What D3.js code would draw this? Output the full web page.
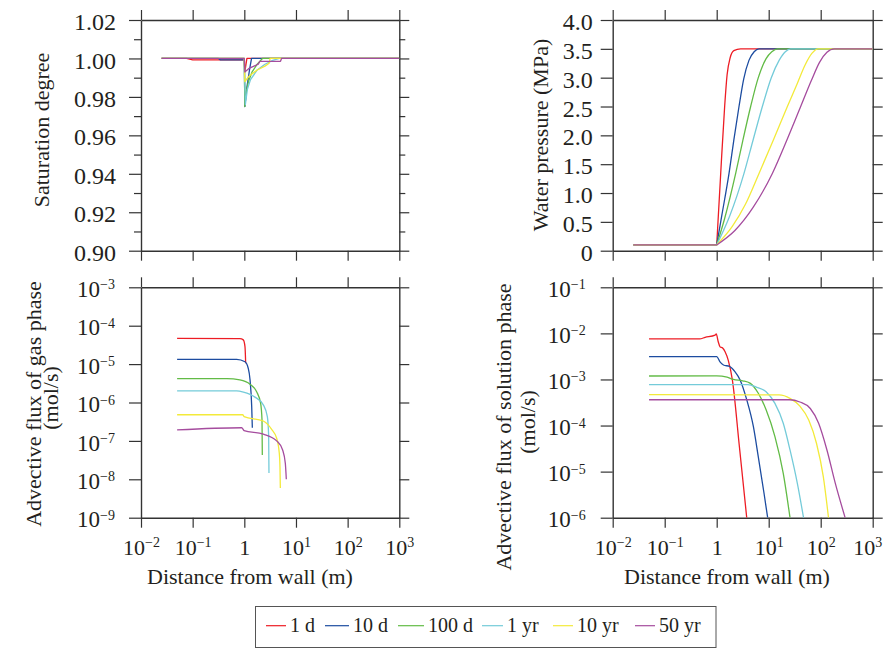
<!DOCTYPE html>
<html><head><meta charset="utf-8">
<script src="https://cdn.jsdelivr.net/npm/d3@7"></script>
<style>
body{margin:0;background:#fff}
svg{display:block}
text{font-family:"Liberation Serif","Times New Roman","DejaVu Serif",serif;fill:#231f20}
</style>
</head><body>
<svg id="c" width="883" height="648"></svg>
<script>
// ---------- DATA ----------
const seriesNames = ["1 d", "10 d", "100 d", "1 yr", "10 yr", "50 yr"];
const seriesColors = ["#ed1c24", "#1c4ca0", "#62bb46", "#74cbd9", "#f3ea3a", "#a54c9e"];
const xTickValues = [0.01, 0.1, 1, 10, 100, 1000];
const xTickExps = [-2, -1, 0, 1, 2, 3];
const satTicks = [0.90, 0.92, 0.94, 0.96, 0.98, 1.00, 1.02];
const satMinorTicks = [0.91, 0.93, 0.95, 0.97, 0.99, 1.01];
const presTicks = [0, 0.5, 1.0, 1.5, 2.0, 2.5, 3.0, 3.5, 4.0];
const gasTicks = [1e-9, 1e-8, 1e-7, 1e-6, 1e-5, 1e-4, 1e-3];
const gasTickExps = [-9, -8, -7, -6, -5, -4, -3];
const solTicks = [1e-6, 1e-5, 1e-4, 1e-3, 1e-2, 1e-1];
const solTickExps = [-6, -5, -4, -3, -2, -1];

// Saturation degree: [distance (m), saturation]
const sat1d   = [[0.025,1.0],[0.076,1.0],[0.1,0.9993],[1.0,0.9993],[1.023,0.993],[1.122,1.0],[1000,1.0]];
const sat10d  = [[0.025,1.0],[0.316,1.0],[0.34,0.9993],[1.0,0.9993],[1.023,0.975],[1.122,0.985],[1.259,0.994],[1.38,1.0],[1000,1.0]];
const sat100d = [[0.025,1.0],[1.0,1.0],[1.023,0.975],[1.096,0.983],[1.202,0.988],[1.413,0.993],[1.778,0.997],[2.239,1.0],[1000,1.0]];
const sat1yr  = [[0.025,1.0],[1.0,1.0],[1.047,0.976],[1.148,0.984],[1.318,0.989],[1.778,0.994],[2.512,0.997],[3.548,0.999],[4.786,1.0],[1000,1.0]];
const sat10yr = [[0.025,1.0],[1.0,1.0],[1.023,0.988],[1.259,0.991],[1.778,0.994],[2.512,0.996],[3.02,0.9975],[3.162,1.0],[1000,1.0]];
const sat50yr = [[0.025,1.0],[1.0,1.0],[1.023,0.993],[1.259,0.995],[1.862,0.997],[1.995,0.9985],[5.012,0.9985],[5.248,1.0],[1000,1.0]];

// Water pressure (MPa)
const pres1d   = [[0.025,0.1],[1,0.1],[1.194,1.34],[1.422,2.5],[1.585,3.05],[1.82,3.35],[2.138,3.47],[2.884,3.5],[1000,3.5]];
const pres10d  = [[0.025,0.1],[1,0.1],[1.259,0.62],[1.726,1.34],[2.138,1.92],[2.685,2.5],[3.311,2.98],[4.169,3.3],[5.248,3.45],[6.516,3.5],[1000,3.5]];
const pres100d = [[0.025,0.1],[1,0.1],[1.413,0.55],[2.317,1.34],[3.162,1.9],[4.498,2.5],[6.31,3.0],[8.913,3.33],[11.48,3.45],[14.79,3.5],[1000,3.5]];
const pres1yr  = [[0.025,0.1],[1,0.1],[1.778,0.6],[3.35,1.34],[5.012,1.92],[7.551,2.5],[11.22,3.0],[15.85,3.3],[20.89,3.45],[26.3,3.5],[1000,3.5]];
const pres10yr = [[0.025,0.1],[1,0.1],[1.995,0.42],[3.548,0.8],[6.516,1.34],[12.3,1.92],[22.86,2.5],[35.48,2.9],[50.12,3.22],[67.61,3.42],[89.13,3.5],[1000,3.5]];
const pres50yr = [[0.025,0.1],[1,0.1],[2.239,0.35],[5.012,0.75],[11.75,1.34],[22.39,1.92],[41.21,2.5],[66.07,2.95],[95.5,3.27],[131.8,3.44],[182,3.5],[1000,3.5]];

// Advective flux of gas phase (mol/s)
const gas1d   = [[0.05,4.7e-5],[0.82,4.6e-5],[0.955,4.27e-5],[1.03,2.85e-5],[1.062,1.05e-5]];
const gas10d  = [[0.05,1.33e-5],[0.71,1.33e-5],[1.03,1.15e-5],[1.19,7.8e-6],[1.29,3.9e-6],[1.39,7.8e-7],[1.43,2.2e-7]];
const gas100d = [[0.05,4.2e-6],[0.46,4.2e-6],[0.82,3.9e-6],[1.29,3.0e-6],[1.73,1.9e-6],[2.07,9.5e-7],[2.2,3.5e-7],[2.23,4.3e-8]];
const gas1yr  = [[0.05,2.0e-6],[0.71,2.0e-6],[0.96,1.86e-6],[1.61,1.38e-6],[2.33,8.7e-7],[2.79,4.3e-7],[2.96,1.3e-7],[3.0,1.45e-8]];
const gas10yr = [[0.05,4.8e-7],[0.93,4.8e-7],[0.99,4.3e-7],[2.33,3.3e-7],[3.38,2.0e-7],[4.23,1.17e-7],[4.75,4.8e-8],[4.9,2.1e-8],[4.98,5.9e-9]];
const gas50yr = [[0.05,1.93e-7],[0.89,2.2e-7],[0.99,1.86e-7],[2.33,1.5e-7],[4.23,1.0e-7],[5.52,5.8e-8],[6.22,2.6e-8],[6.5,1.0e-8]];

// Advective flux of solution phase (mol/s)
const sol1d   = [[0.05,7.6e-3],[0.47,7.6e-3],[0.6,8.2e-3],[0.93,9.2e-3],[0.98,9.7e-3],[1.07,6.6e-3],[1.16,5.1e-3],[1.3,4.8e-3],[1.45,4.0e-3],[1.67,2.6e-3],[2.0,9.8e-4],[2.73,3.5e-5],[3.78,1e-6]];
const sol10d  = [[0.05,3.13e-3],[1.0,3.13e-3],[1.148,2.45e-3],[1.349,2.06e-3],[1.778,1.91e-3],[2.239,1.48e-3],[2.818,9.77e-4],[3.802,3.55e-4],[5.07,9.55e-5],[6.31,2.09e-5],[8.128,3.39e-6],[9.55,1e-6]];
const sol100d = [[0.05,1.19e-3],[1.0,1.2e-3],[1.585,1.12e-3],[2.089,1.0e-3],[3.162,9.33e-4],[4.365,8.32e-4],[6.31,5.01e-4],[8.913,2.19e-4],[13.18,5.75e-5],[19.05,9.12e-6],[25.7,1e-6]];
const sol1yr  = [[0.05,7.76e-4],[3.981,7.76e-4],[5.888,6.76e-4],[8.913,5.43e-4],[13.18,3.02e-4],[19.05,1.12e-4],[25.7,2.95e-5],[35.48,5.62e-6],[46.77,1e-6]];
const sol10yr = [[0.05,4.68e-4],[15.85,4.62e-4],[25.7,3.89e-4],[39.81,2.63e-4],[58.88,1.32e-4],[83.18,4.07e-5],[112.2,7.76e-6],[141.3,1e-6]];
const sol50yr = [[0.05,3.63e-4],[25.12,3.63e-4],[39.81,3.24e-4],[63.1,2.34e-4],[91.2,1.12e-4],[131.8,2.95e-5],[190.5,5.62e-6],[295.1,1e-6]];

// ---------- DRAWING ----------
const svg = d3.select("#c");
const AX = "#333333";
const FS = 22;
const FONT = '"Liberation Serif","Times New Roman","DejaVu Serif",serif';

const P = {
  tl:{l:141, r:399.3, t:20,    b:250.7},
  tr:{l:612.7, r:872.7, t:20,  b:250.7},
  bl:{l:141, r:399.3, t:287.3, b:517.7},
  br:{l:612.7, r:872.7, t:287.3, b:517.7}
};

function supText(sel, base, exp) {
  sel.text(null);
  if (exp === 0) { sel.append("tspan").text("1"); return; }
  sel.append("tspan").text(base);
  sel.append("tspan").attr("dy", "-0.55em").attr("font-size", "14px")
     .text(String(exp).replace("-", "\u2212"));
}

function styleAxis(g) {
  g.attr("font-family", FONT);
  g.select(".domain").attr("stroke", AX).attr("stroke-width", 1.4);
  g.selectAll(".tick line").attr("stroke", AX).attr("stroke-width", 1.2);
}

function drawPanel(p, x, y, cfg) {
  const g = svg.append("g");
  const add = (gen, tx, ty) => {
    const a = g.append("g").attr("transform", `translate(${tx},${ty})`).call(gen);
    styleAxis(a); return a;
  };
  if (cfg.yMinor) {
    add(d3.axisLeft(y).tickValues(cfg.yMinor).tickSize(7).tickSizeOuter(0).tickFormat(""), p.l, 0).select(".domain").remove();
    add(d3.axisRight(y).tickValues(cfg.yMinor).tickSize(6).tickSizeOuter(0).tickFormat(""), p.r, 0).select(".domain").remove();
  }
  const bottom = add(d3.axisBottom(x).tickValues(xTickValues).tickSize(10).tickSizeOuter(0).tickFormat(""), 0, p.b);
  add(d3.axisTop(x).tickValues(xTickValues).tickSize(10).tickSizeOuter(0).tickFormat(""), 0, p.t);
  const left = add(d3.axisLeft(y).tickValues(cfg.yTicks).tickSize(12).tickSizeOuter(0).tickFormat(""), p.l, 0);
  add(d3.axisRight(y).tickValues(cfg.yTicks).tickSize(10).tickSizeOuter(0).tickFormat(""), p.r, 0);

  // y labels
  left.selectAll(".tick").append("text")
    .attr("x", cfg.yLabelX).attr("dy", "0.4em")
    .attr("text-anchor", "end").attr("font-size", cfg.yFS + "px")
    .each(function(d, i) {
      const t = d3.select(this);
      if (cfg.yExps) supText(t, "10", cfg.yExps[i]);
      else t.text(cfg.yFmt(d));
    });
  // x labels
  if (cfg.xLabels) {
    const n = xTickValues.length;
    bottom.selectAll(".tick").append("text")
      .attr("y", 37.5).attr("font-size", FS + "px")
      .attr("text-anchor", (d, i) => (cfg.lastEnd && i === n - 1) ? "end" : "middle")
      .attr("x", (d, i) => (cfg.lastEnd && i === n - 1) ? 9 : 0)
      .each(function(d, i) { supText(d3.select(this), "10", xTickExps[i]); });
  }
  // clip
  const id = "clip" + Math.random().toString(36).slice(2, 8);
  svg.append("clipPath").attr("id", id).append("rect")
    .attr("x", p.l).attr("y", p.t - 1).attr("width", p.r - p.l).attr("height", p.b - p.t + 1);
  const lg = svg.append("g").attr("clip-path", `url(#${id})`);
  cfg.series.forEach((s, i) => {
    lg.append("path").attr("d", cfg.pathFn(s)).attr("fill", "none")
      .attr("stroke", seriesColors[i]).attr("stroke-width", 1.3)
      .attr("stroke-linejoin", "round");
  });
  return g;
}

function makeX(p) { return d3.scaleLog().domain([0.01, 1000]).range([p.l, p.r]); }

// Top-left: saturation
{
  const p = P.tl, x = makeX(p);
  const y = d3.scaleLinear().domain([0.90, 1.02]).range([p.b, p.t]);
  const line = d3.line().x(d => x(d[0])).y(d => y(d[1])).curve(d3.curveLinear);
  drawPanel(p, x, y, {
    yTicks: satTicks, yMinor: satMinorTicks, yLabelX: -25, yFS: 24, yFmt: d3.format(".2f"),
    series: [sat1d, sat10d, sat100d, sat1yr, sat10yr, sat50yr], pathFn: s => line(s)
  });
}
// Top-right: pressure
{
  const p = P.tr, x = makeX(p);
  const y = d3.scaleLinear().domain([0, 4]).range([p.b, p.t]);
  const lin = d3.line().x(d => x(d[0])).y(d => y(d[1]));
  const mono = d3.line().x(d => x(d[0])).y(d => y(d[1])).curve(d3.curveMonotoneX);
  drawPanel(p, x, y, {
    yTicks: presTicks, yLabelX: -20, yFS: 24, yFmt: d => d === 0 ? "0" : d3.format(".1f")(d),
    series: [pres1d, pres10d, pres100d, pres1yr, pres10yr, pres50yr],
    pathFn: s => lin(s.filter(d => d[0] <= 1)) + mono(s.filter(d => d[0] >= 1))
  });
}
// Bottom-left: gas flux
{
  const p = P.bl, x = makeX(p);
  const y = d3.scaleLog().domain([1e-9, 1e-3]).range([p.b, p.t]);
  const mono = d3.line().x(d => x(d[0])).y(d => y(d[1])).curve(d3.curveMonotoneX);
  drawPanel(p, x, y, {
    yTicks: gasTicks, yExps: gasTickExps, yLabelX: -26, yFS: 23, xLabels: true,
    series: [gas1d, gas10d, gas100d, gas1yr, gas10yr, gas50yr], pathFn: s => mono(s)
  });
}
// Bottom-right: solution flux
{
  const p = P.br, x = makeX(p);
  const y = d3.scaleLog().domain([1e-6, 1e-1]).range([p.b, p.t]);
  const mono = d3.line().x(d => x(d[0])).y(d => y(d[1])).curve(d3.curveMonotoneX);
  drawPanel(p, x, y, {
    yTicks: solTicks, yExps: solTickExps, yLabelX: -27, yFS: 23, xLabels: true, lastEnd: true,
    series: [sol1d, sol10d, sol100d, sol1yr, sol10yr, sol50yr], pathFn: s => mono(s)
  });
}

// Axis titles
function vtext(x, y, str) {
  svg.append("text").attr("transform", `translate(${x},${y}) rotate(-90)`)
    .attr("text-anchor", "middle").attr("font-size", FS + "px")
    .attr("font-family", FONT).text(str);
}
vtext(49, 130, "Saturation degree");
vtext(548, 135, "Water pressure (MPa)");
vtext(41, 404, "Advective flux of gas phase");
vtext(58, 398, "(mol/s)");
vtext(511, 427, "Advective flux of solution phase");
vtext(535, 422, "(mol/s)");
svg.append("text").attr("x", 250).attr("y", 584).attr("text-anchor", "middle")
  .attr("font-size", FS + "px").attr("font-family", FONT).text("Distance from wall (m)");
svg.append("text").attr("x", 727).attr("y", 584).attr("text-anchor", "middle")
  .attr("font-size", FS + "px").attr("font-family", FONT).text("Distance from wall (m)");

// Legend
svg.append("rect").attr("x", 255.5).attr("y", 606.5).attr("width", 460.5).attr("height", 41)
  .attr("fill", "#fff").attr("stroke", "#555").attr("stroke-width", 1);
const legX = [266, 325, 398, 482, 553, 635];
const legLen = [20, 24, 26, 21, 20, 20];
seriesNames.forEach((n, i) => {
  svg.append("line").attr("x1", legX[i]).attr("x2", legX[i] + legLen[i])
    .attr("y1", 625.7).attr("y2", 625.7).attr("stroke", seriesColors[i]).attr("stroke-width", 1.2);
  svg.append("text").attr("x", legX[i] + legLen[i] + 4).attr("y", 632)
    .attr("font-size", "20px").attr("font-family", FONT).text(n);
});
</script>
</body></html>
